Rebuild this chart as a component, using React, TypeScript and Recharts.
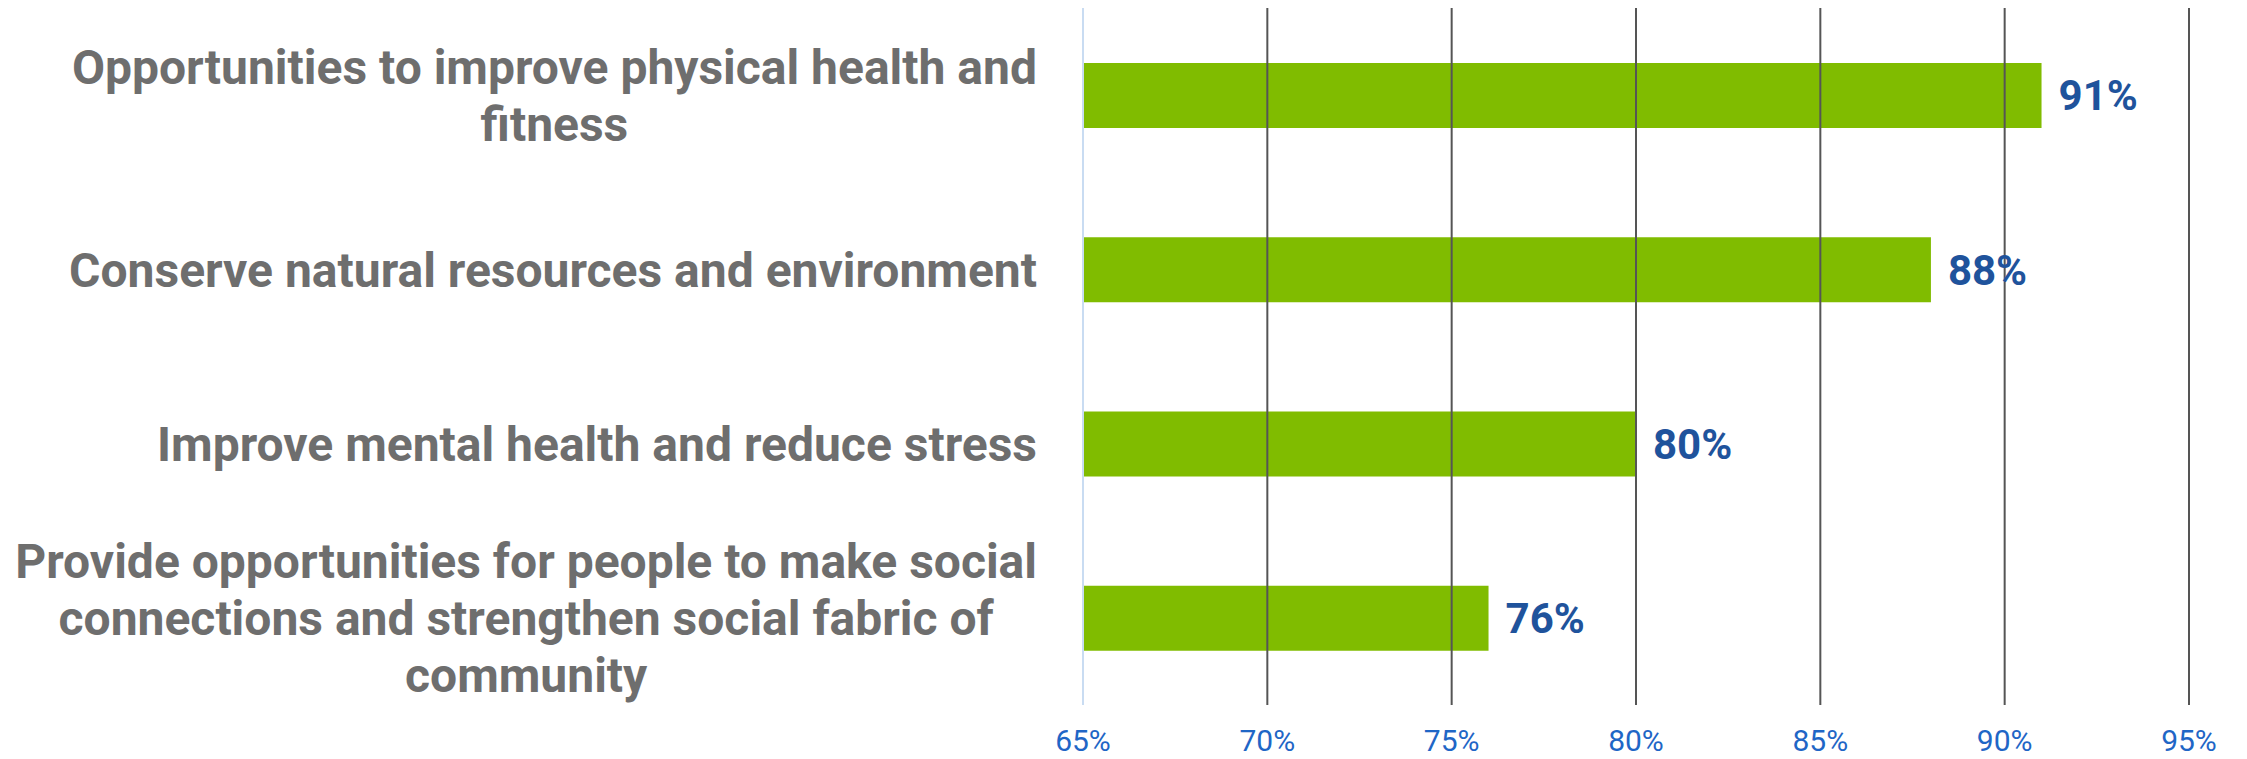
import { BarChart, Bar, XAxis, YAxis, ReferenceLine, LabelList } from "recharts";

const categories = [
  "Opportunities to improve physical health and\nfitness",
  "Conserve natural resources and environment",
  "Improve mental health and reduce stress",
  "Provide opportunities for people to make social\nconnections and strengthen social fabric of\ncommunity",
];
const values = [91, 88, 80, 76];
const xTicks = [65, 70, 75, 80, 85, 90, 95];
const gridValues = [70, 75, 80, 85, 90, 95];

const data = categories.map((name, i) => ({ name, value: values[i] }));

const LABEL_FONT = "bold 48px Roboto";
const LABEL_RIGHT = 1037;
const LINE_GAP = 57;

let ctx: CanvasRenderingContext2D | null = null;
const measure = (s: string) => {
  if (!ctx) ctx = document.createElement("canvas").getContext("2d");
  if (!ctx) return s.length * 24;
  ctx.font = LABEL_FONT;
  return ctx.measureText(s).width;
};

const CategoryTick = ({ y, payload }: any) => {
  const lines: string[] = String(payload.value).split("\n");
  const maxW = Math.max(...lines.map(measure));
  const cx = LABEL_RIGHT - maxW / 2;
  return (
    <text
      x={cx}
      y={y}
      textAnchor="middle"
      fill="#6e6e6e"
      fontFamily="Roboto"
      fontWeight="bold"
      fontSize={48}
    >
      {lines.map((line, i) => (
        <tspan key={i} x={cx} y={y + (i - (lines.length - 1) / 2) * LINE_GAP} dy="0.36em">
          {line}
        </tspan>
      ))}
    </text>
  );
};

export default function App() {
  return (
    <div style={{ position: "absolute", left: 0, top: 0, background: "#fff" }}>
      <BarChart
        width={2247}
        height={759}
        data={data}
        layout="vertical"
        margin={{ top: 8, right: 58, bottom: 0, left: 0 }}
      >
        <XAxis
          type="number"
          domain={[65, 95]}
          ticks={xTicks}
          allowDataOverflow
          axisLine={false}
          tickLine={false}
          tickSize={0}
          tickMargin={25}
          height={54}
          tick={{ fill: "#1f66c6", fontSize: 30, fontFamily: "Roboto" }}
          tickFormatter={(v) => `${v}%`}
        />
        <YAxis
          type="category"
          dataKey="name"
          width={1083}
          tickLine={false}
          axisLine={{ stroke: "#c9dcf2", strokeWidth: 2 }}
          tick={<CategoryTick />}
          interval={0}
        />
        {gridValues.map((v) => (
          <ReferenceLine key={v} x={v} stroke="#555555" strokeWidth={2} />
        ))}
        <Bar dataKey="value" fill="#80bc00" barSize={65} isAnimationActive={false}>
          <LabelList
            dataKey="value"
            position="right"
            offset={17}
            formatter={(v: any) => `${v}%`}
            fill="#1f539c"
            fontSize={42}
            fontWeight="bold"
            fontFamily="Roboto"
          />
        </Bar>
      </BarChart>
    </div>
  );
}
